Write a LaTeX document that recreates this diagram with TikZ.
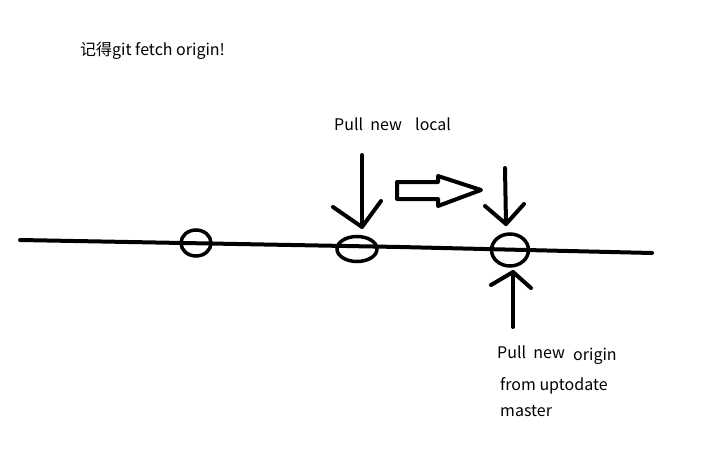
\documentclass[tikz,border=0pt]{standalone}
\usepackage{fontspec}
\setmainfont{Noto Sans CJK SC}
\usetikzlibrary{shapes.geometric}
\tikzset{
	stroke/.style = {line width=4pt, line cap=round, line join=round},
	commit/.style = {draw, ellipse, line width=3.5pt, inner sep=0pt},
	note/.style = {anchor=base west, inner sep=0pt, font=\fontsize{16}{19}\selectfont}
}
\begin{document}
\begin{tikzpicture}[x=1pt,y=-1pt]
	\useasboundingbox (0,0) rectangle (706,452);
	
	\node[note] (memo) at (80,56) {记得git fetch origin!};
	
	% main line
	\coordinate (start) at (20,240);
	\coordinate (mid) at (400,247);
	\coordinate (end) at (652,253);
	\draw[stroke] (start) -- (mid) -- (end);
	
	\node[commit, minimum width=30, minimum height=26] (old) at (196,243) {};
	\node[commit, minimum width=40, minimum height=25] (local) at (357,249) {};
	\node[commit, minimum width=37, minimum height=32] (origin) at (510,250) {};
	
	% pull new local
	\node[note] (pulllocal) at (334,130) {Pull\ \ new};
	\node[note] (locallabel) at (415,130) {local};
	\coordinate (a1) at (362,155);
	\coordinate (a1tip) at (362,227);
	\draw[stroke] (a1) -- (a1tip);
	\draw[stroke] (333,207) -- (a1tip) -- (381,201);
	
	% block arrow
	\draw[stroke] (397,182) -- (438,182) -- (438,176) -- (481,190) -- (438,206)
		-- (438,199) -- (397,199) -- cycle;
	
	\coordinate (a2) at (505,168);
	\coordinate (a2tip) at (506,224);
	\draw[stroke] (a2) -- (a2tip);
	\draw[stroke] (485,206) -- (a2tip) -- (524,204);
	
	% pull new origin
	\coordinate (a3) at (513,327);
	\coordinate (a3tip) at (513,272);
	\draw[stroke] (a3) -- (a3tip);
	\draw[stroke] (491,285) -- (a3tip) -- (531,288);
	
	\node[note] (pullorigin) at (497,358) {Pull\ \ new};
	\node[note] (originlabel) at (573,360) {origin};
	\node[note] (from) at (500,390) {from uptodate};
	\node[note] (master) at (500,416) {master};
	
\end{tikzpicture}
\end{document}
